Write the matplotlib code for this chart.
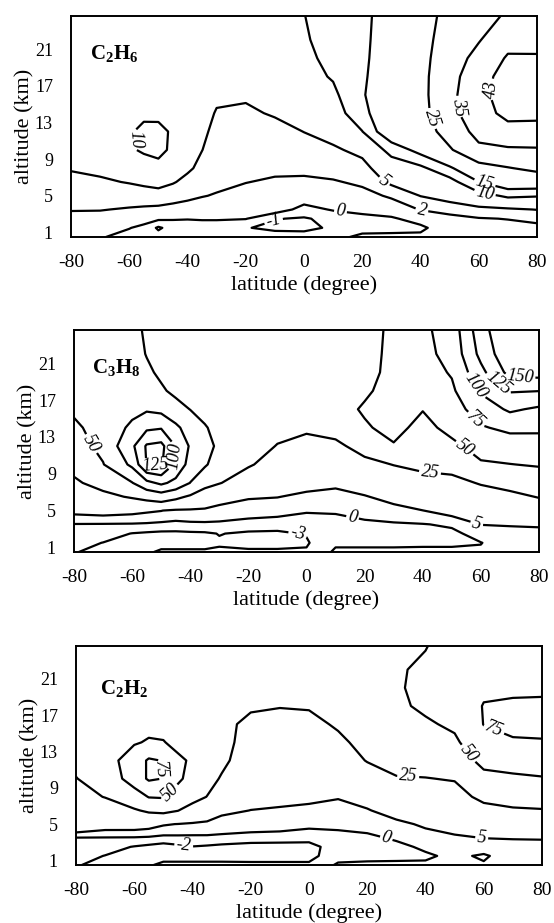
import numpy as np
import matplotlib
matplotlib.use("Agg")
import matplotlib.pyplot as plt

plt.rcParams['font.family'] = ['Liberation Serif', 'DejaVu Serif']
plt.rcParams['axes.unicode_minus'] = False
plt.rcParams['mathtext.fontset'] = 'custom'
plt.rcParams['mathtext.rm'] = 'Liberation Serif'
plt.rcParams['mathtext.bf'] = 'Liberation Serif:bold'
plt.rcParams['contour.negative_linestyle'] = 'solid'

# ---------------- data ----------------
LAT = [-80, -70, -60, -55, -50, -45, -40, -35, -30, -20, -10, 0, 10, 20, 30, 40, 50, 60, 70, 80]
ALT = [0.5, 1.5, 2.5, 3.5, 5, 6.5, 8, 10, 12, 14, 16, 18, 20, 22, 24.6]

X_TICKS = [-80, -60, -40, -20, 0, 20, 40, 60, 80]
Y_TICKS = [1, 5, 9, 13, 17, 21]

# one row per latitude (LAT order), values at ALT
C2H6 = [
    [0.6, 1.0, 1.5, 2.1, 2.9, 3.9, 5.3, 6.5, 7.2, 7.5, 7.6, 7.6, 7.5, 7.4, 7.3],
    [0.1, 0.7, 1.3, 2.1, 3.2, 4.5, 5.8, 7.0, 7.8, 8.1, 8.0, 7.9, 7.8, 7.6, 7.4],
    [-0.4, 0.05, 0.9, 1.8, 3.2, 5.2, 7.5, 9.5, 9.6, 8.8, 8.3, 8.0, 7.8, 7.6, 7.4],
    [-0.6, -0.3, 0.5, 1.6, 3.4, 5.7, 8.2, 10.5, 10.8, 9.3, 8.5, 8.1, 7.9, 7.7, 7.5],
    [-0.6, -1.15, 0.2, 1.4, 3.6, 6.2, 8.9, 11.0, 11.2, 8.9, 8.3, 8.0, 7.8, 7.6, 7.4],
    [-0.5, -0.6, 0.1, 1.3, 2.9, 5.3, 7.8, 9.3, 9.4, 8.8, 8.3, 8.0, 7.8, 7.6, 7.4],
    [-0.4, -0.5, 0.05, 1.1, 2.5, 4.0, 5.6, 7.3, 8.2, 8.3, 8.1, 7.9, 7.8, 7.6, 7.4],
    [-0.4, -0.5, 0.1, 1.0, 2.1, 3.2, 4.1, 5.05, 5.6, 6.0, 6.5, 7.0, 7.3, 7.4, 7.3],
    [-0.4, -0.5, 0.1, 0.9, 1.85, 2.5, 3.0, 3.6, 4.2, 4.8, 5.5, 6.2, 6.8, 7.1, 7.2],
    [-0.5, -0.95, 0.05, 0.7, 1.4, 2.05, 2.6, 3.2, 3.8, 4.5, 5.4, 6.3, 6.9, 7.2, 7.3],
    [-0.6, -1.2, -0.95, 0.6, 1.3, 1.75, 2.4, 3.1, 4.0, 5.3, 6.2, 6.8, 7.2, 7.4, 7.5],
    [-0.6, -1.25, -1.1, -0.4, 0.7, 1.6, 2.5, 3.8, 5.05, 6.5, 7.6, 8.4, 9.0, 9.5, 9.9],
    [-0.4, -0.85, -0.7, 0.1, 1.2, 1.8, 2.9, 4.5, 6.3, 7.8, 9.0, 10.4, 11.2, 11.8, 12.2],
    [0.3, -0.5, -0.3, 0.3, 1.3, 2.4, 3.9, 5.9, 9.9, 13.0, 14.3, 13.8, 13.4, 13.2, 13.0],
    [0.3, -0.4, -0.2, 0.8, 2.3, 5.8, 7.5, 11.5, 20, 21, 21, 20.5, 20, 19.5, 19],
    [0.3, -0.3, 0.6, 2.1, 5.1, 7.0, 8.8, 17, 20, 21.5, 22, 22, 21.8, 21.5, 21],
    [0.5, 0.9, 1.5, 2.6, 7.0, 8.0, 14.0, 24, 29, 32.5, 33, 32.5, 31, 29.5, 28],
    [0.5, 1.0, 1.8, 4.2, 8.2, 14.9, 21.5, 33, 38, 40, 40.5, 39.5, 37.5, 34.5, 32],
    [0.6, 1.1, 2.1, 4.5, 10.8, 19.5, 24.5, 34, 40.5, 45, 47, 46.5, 43.8, 40.5, 36],
    [0.8, 1.4, 2.6, 5.1, 10.3, 19.4, 27, 34.3, 40.1, 45, 47, 46, 43.6, 41, 39],
]

C3H8 = [
    [-2.9, -2.2, -1.3, -0.2, 7, 14, 22, 31, 40, 46.5, 53, 58, 60, 61, 61],
    [-3.5, -3.05, -1.8, -0.3, 8, 20, 32, 49, 56, 58, 59, 60, 60, 60, 60],
    [-3.6, -3.5, -3.1, -0.4, 7, 27, 49, 80, 95, 80, 68, 62, 60, 59, 58],
    [-3.3, -3.7, -3.4, -0.6, 6, 32, 68, 126, 128, 95, 72, 60, 54, 49, 46],
    [-2.7, -3.7, -3.6, -1.0, 5.2, 37, 80, 128, 132, 98, 68, 53, 46, 43, 42],
    [-2.7, -3.7, -3.6, -1.2, 3.5, 30, 68, 95, 99, 80, 58, 45, 40, 38, 37],
    [-2.7, -3.7, -3.5, -0.8, 3.5, 22, 49.5, 65, 72, 64, 49.5, 42, 37, 35, 34],
    [-2.7, -3.7, -3.4, -0.7, 3.5, 14, 32, 53, 57, 51.5, 44, 37, 33, 31, 30],
    [-2.6, -3.3, -2.9, -0.8, 3.0, 8, 26, 38, 46, 44, 38, 33, 30, 28, 27],
    [-2.7, -3.6, -3.4, -1.6, 2.2, 5.6, 14, 27, 36, 40, 38, 34, 31, 29, 28],
    [-2.7, -3.6, -3.5, -1.8, 1.5, 5.2, 10, 17, 24, 32, 37, 38, 36, 33, 31],
    [-2.7, -3.3, -2.8, -1.5, 0.3, 3.6, 7.5, 13, 19, 28, 35, 39, 40, 40, 39],
    [0.5, -0.5, -1.5, -1.2, 0.4, 2.6, 6.6, 13, 21, 32, 40, 42, 42, 41, 40],
    [0.5, -0.5, -1.0, -0.6, 1.2, 4.4, 10, 20, 32, 47, 53, 46, 41, 40, 39],
    [0.5, -0.5, -1.0, -0.4, 2.4, 8, 14, 25.5, 48, 58, 61, 60, 58, 57, 56],
    [0.5, -0.4, -0.9, -0.2, 4.9, 12, 19, 29, 36, 42, 51, 60, 65, 68, 70],
    [0.5, -0.4, -0.9, 0.6, 8, 15, 21, 30, 44, 58, 65, 71, 77, 83, 86],
    [0.4, -0.1, 1.5, 5.2, 12, 19, 26, 47, 60, 73, 86, 103, 118, 132, 140],
    [1.0, 1.8, 3.0, 5.5, 12, 20, 32, 49.5, 64, 80, 104, 127, 158, 170, 175],
    [1.2, 2.0, 3.3, 5.8, 14, 26, 36, 52, 66, 79, 96, 125.5, 160, 172, 178],
]

C2H2 = [
    [-1.9, -1.4, -0.9, -0.1, 13, 17, 20, 24.5, 29, 33, 35, 36, 36, 36, 36],
    [-2.4, -2.05, -1.3, -0.2, 9, 17, 25.5, 33, 40, 38, 36, 35, 35, 35, 35],
    [-2.5, -2.6, -2.1, -0.3, 9, 23, 38, 62, 62, 48, 42, 39, 38, 37, 37],
    [-2.2, -2.7, -2.4, -0.6, 8, 28, 51, 78, 78, 52, 44, 40, 38, 37, 37],
    [-1.6, -2.7, -2.5, -1.2, 5.7, 30, 52, 74.5, 74, 51, 43, 40, 38, 37, 37],
    [-1.6, -2.7, -2.3, -1.0, 4.8, 25.5, 40, 54, 54, 44, 40, 38, 37, 36, 36],
    [-1.6, -2.7, -2.05, -0.9, 4.0, 16, 33, 42, 47, 42, 38, 36, 35, 35, 35],
    [-1.6, -2.7, -2.2, -0.8, 3.5, 11, 24.5, 33, 38, 38, 36, 35, 34, 34, 34],
    [-1.6, -2.7, -2.4, -0.9, 2.5, 6.5, 14, 23, 30, 34, 35, 34, 33, 33, 33],
    [-1.6, -2.8, -2.6, -1.2, 1.8, 4.9, 7.5, 10, 12, 13.5, 16, 30, 33, 33, 33],
    [-1.6, -2.8, -2.6, -1.3, 1.5, 4.3, 7, 9.5, 11.5, 13.5, 17, 26, 32, 33, 34],
    [-1.7, -2.6, -2.4, -1.6, 0.8, 3.6, 6.5, 9.5, 12, 14.5, 18.5, 27, 33, 35, 36],
    [0.3, -0.8, -1.4, -1.0, 0.8, 3.5, 5.3, 9, 14, 20, 28, 33, 36, 38, 39],
    [0.4, -0.6, -1.0, -0.6, 1.2, 4.5, 8.0, 15, 26, 33, 38, 41, 43, 44, 45],
    [0.4, -0.5, -0.7, 0.4, 3.5, 8, 14, 23.5, 33, 39, 43, 46, 47.5, 47.5, 46],
    [0.4, -0.4, 0.5, 2.8, 6, 11, 17, 24.5, 32, 40, 47, 54, 56, 54, 49],
    [0.6, 0.6, 1.8, 3.8, 9, 14, 19, 26, 36, 46, 54, 60, 63, 63, 61],
    [0.3, -0.4, 1.5, 5.2, 12, 20, 29, 43, 57, 68, 75.5, 76, 71, 67, 63],
    [0.8, 1.5, 3.0, 5.4, 14, 23, 32, 46, 60, 73, 80, 79, 70, 65, 62],
    [1.0, 1.8, 3.2, 5.5, 15, 24, 33, 48.5, 61, 73.5, 81, 79, 71, 66, 63],
]

LEVELS_C2H6 = [-1, 0, 2, 5, 10, 15, 25, 35, 43]
LEVELS_C3H8 = [-3, 0, 5, 25, 50, 75, 100, 125, 150]
LEVELS_C2H2 = [-2, 0, 5, 25, 50, 75]

NAMES = [r'$\mathbf{C_2H_6}$', r'$\mathbf{C_3H_8}$', r'$\mathbf{C_2H_2}$']

# label placement (level -> points near which the label goes, data coords)
LABELS_1 = {-1: [(-10, 1.8)], 0: [(12.5, 3.2)], 2: [(40.4, 3.3)], 5: [(27.6, 6.6)],
            10: [(-59, 11.1), (62, 5.1)], 15: [(62, 6.3)], 25: [(43.8, 13.4)],
            35: [(52.8, 14.7)], 43: [(64, 16.6)]}
LABELS_2 = {-3: [(-3, 2.5)], 0: [(16, 4.5)], 5: [(58.6, 3.6)], 25: [(42.5, 9.2)],
            50: [(-75, 12.1), (53.4, 11.4)], 75: [(57.4, 14.6)],
            100: [(-47, 11), (57.4, 18.4)], 125: [(-52, 10.0), (66, 18.8)],
            150: [(73.5, 20.5)]}
LABELS_3 = {-2: [(-43, 2.7)], 0: [(26.5, 3.4)], 5: [(59.3, 3.5)], 25: [(34, 9.9)],
            50: [(-47.8, 8.5), (54, 12.6)], 75: [(-50, 11), (63, 15.0)]}

# ---------------- figure ----------------
fig = plt.figure(figsize=(5.54, 9.23), dpi=100)
rects = [
    [71 / 554, 1 - 237 / 923, 466 / 554, 221 / 923],
    [74 / 554, 1 - 552 / 923, 465 / 554, 222 / 923],
    [76 / 554, 1 - 865 / 923, 466 / 554, 219 / 923],
]
datasets = [C2H6, C3H8, C2H2]
levels_all = [LEVELS_C2H6, LEVELS_C3H8, LEVELS_C2H2]
labels_all = [LABELS_1, LABELS_2, LABELS_3]
name_pos = [(0.040, 0.88), (0.039, 0.88), (0.052, 0.855)]

for rect, data, levels, labs, name, npos in zip(rects, datasets, levels_all,
                                                labels_all, NAMES, name_pos):
    ax = fig.add_axes(rect)
    Z = np.array(data, dtype=float).T
    for lvl in levels:
        cs = ax.contour(LAT, ALT, Z, levels=[lvl], colors='black', linewidths=1.6)
        if lvl in labs:
            txts = ax.clabel(cs, manual=labs[lvl], fmt='%d', fontsize=13,
                             inline=True, inline_spacing=2)
            for t in txts:
                t.set_fontstyle('italic')
    ax.set_xlim(-80, 80)
    ax.set_ylim(0.5, 24.6)
    ax.set_xticks(X_TICKS)
    ax.set_yticks(Y_TICKS)
    ax.tick_params(axis='x', length=0, pad=12.5, labelsize=14)
    ax.tick_params(axis='y', length=0, pad=13, labelsize=13)
    for s in ax.spines.values():
        s.set_linewidth(1.4)
    ax.set_xlabel('latitude (degree)', fontsize=16, labelpad=3)
    ax.set_ylabel('altitude (km)', fontsize=16, labelpad=0)
    ax.text(npos[0], npos[1], name, transform=ax.transAxes, fontsize=15, va='top', ha='left')

fig.savefig('out.png', dpi=100)
